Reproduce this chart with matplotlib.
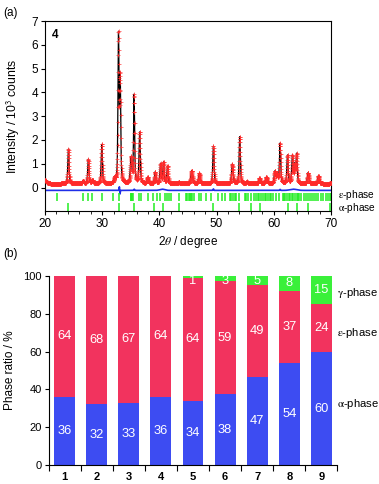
import numpy as np
import matplotlib
matplotlib.use("Agg")
import matplotlib.pyplot as plt
from matplotlib.ticker import MultipleLocator, FixedLocator

plt.rcParams['font.family'] = ['Liberation Sans', 'DejaVu Sans']
plt.rcParams['mathtext.fontset'] = 'stix'

# ---------------- (a) XRD data: peaks ----------------
peak_pos = [20.0, 24.10, 26.65, 27.58, 28.30, 29.93, 32.20, 32.85, 33.15, 35.05, 35.58,
            36.55, 37.95, 39.25, 40.20, 40.72, 41.42, 43.40, 45.65, 46.98, 49.45,
            52.75, 54.05, 55.30, 57.50, 58.70, 60.20, 60.60, 61.10, 62.40, 63.25,
            63.65, 64.00, 66.00, 67.80, 70.0]
peak_height = [0.15, 1.45, 0.12, 1.02, 0.15, 1.65, 0.20, 6.15, 4.30, 1.05, 3.70,
               2.15, 0.25, 0.48, 0.82, 0.88, 0.72, 0.05, 0.55, 0.43, 1.58,
               0.82, 1.98, 0.08, 0.23, 0.27, 0.50, 0.35, 1.68, 1.18, 1.15,
               0.75, 1.22, 0.46, 0.33, 0.04]
peak_fwhm = [0.6, 0.25, 0.3, 0.25, 0.3, 0.25, 0.3, 0.22, 0.22, 0.3, 0.22,
             0.25, 0.3, 0.25, 0.25, 0.25, 0.25, 0.3, 0.35, 0.3, 0.25,
             0.3, 0.25, 0.3, 0.3, 0.35, 0.3, 0.3, 0.25, 0.25, 0.25,
             0.25, 0.25, 0.3, 0.3, 0.3]
background = 0.16

diff_pos = [33.0, 33.12, 35.6, 40.5, 49.45, 61.1, 63.4]
diff_amp = [0.15, -0.15, 0.05, 0.05, 0.06, 0.04, 0.05]
diff_width = [0.05, 0.05, 0.1, 0.6, 0.08, 0.1, 0.8]
diff_offset = -0.12

eps_ticks = [20.0, 22.04, 26.6, 27.57, 28.16, 29.97, 31.83, 32.88, 34.98, 35.1, 35.25, 35.4,
             36.4, 36.73, 38.0, 38.9, 39.6, 40.05, 41.03, 41.3, 41.6, 42.08, 43.37,
             44.7, 44.9, 45.1, 45.3, 45.5, 45.65, 46.05, 46.9, 47.3, 48.2, 48.97, 50.2,
             50.9, 51.4, 52.3, 52.6, 52.9, 53.2, 53.4, 53.97, 55.0, 55.2, 55.45, 56.0,
             56.6, 56.9, 57.2, 57.5, 57.8, 58.1, 58.4, 58.7, 59.0, 59.3, 59.6, 59.8,
             60.4, 60.96, 61.55, 61.8, 62.0, 62.3, 62.6, 62.9, 63.1, 63.4, 63.7, 64.0,
             64.2, 64.46, 64.76, 65.3, 65.6, 66.0, 66.3, 66.7, 67.0, 67.4, 67.8, 68.2,
             68.55, 69.1, 69.4, 69.8, 70.0]
alpha_ticks = [24.08, 33.0, 35.6, 39.1, 40.7, 43.4, 49.4, 54.0, 56.1, 57.55, 62.43,
               64.1, 65.95, 69.8]

# ---------------- (b) phase ratios ----------------
samples = ['1', '2', '3', '4', '5', '6', '7', '8', '9']
alpha_pct = [36.0, 32.2, 32.9, 35.9, 33.9, 37.6, 46.4, 54.1, 59.9]
eps_pct = [64.0, 67.8, 67.1, 64.1, 64.9, 59.4, 48.9, 37.7, 25.2]
gamma_pct = [0.0, 0.0, 0.0, 0.0, 1.2, 3.0, 4.7, 8.2, 14.9]
alpha_lab = ['36', '32', '33', '36', '34', '38', '47', '54', '60']
eps_lab = ['64', '68', '67', '64', '64', '59', '49', '37', '24']
gamma_lab = ['', '', '', '', '1', '3', '5', '8', '15']

# ---------------- figure ----------------
fig = plt.figure(figsize=(3.79, 4.84), dpi=100)

# ---- (a)
ax1 = fig.add_axes([0.1187, 0.5634, 0.7546, 0.3932])
tt = np.arange(20.0, 70.0001, 0.02)
prof = np.full_like(tt, background)
for c, h, w in zip(peak_pos, peak_height, peak_fwhm):
    g = np.exp(-4 * np.log(2) * ((tt - c) / w) ** 2)
    l = 1.0 / (1.0 + 4 * ((tt - c) / w) ** 2)
    prof += h * (0.5 * g + 0.5 * l)
diff = np.full_like(tt, diff_offset)
for c, a, w in zip(diff_pos, diff_amp, diff_width):
    diff += a * np.exp(-((tt - c) / w) ** 2)

ax1.plot(tt, prof, color='black', lw=0.9, zorder=2)
ax1.plot(tt, prof, linestyle='none', marker='+', ms=2.4, mew=0.45, color='#ff2a2a', zorder=3)
ax1.plot(tt, diff, color='#1f2ee8', lw=1.2, zorder=2)
ax1.vlines(eps_ticks, -0.57, -0.24, color='#22ee22', lw=1.1, zorder=2)
ax1.vlines(alpha_ticks, -0.97, -0.63, color='#22ee22', lw=1.1, zorder=2)

ax1.set_xlim(20, 70)
ax1.set_ylim(-1.0, 7.0)
ax1.xaxis.set_major_locator(MultipleLocator(10))
ax1.xaxis.set_minor_locator(MultipleLocator(2))
ax1.yaxis.set_major_locator(FixedLocator([0, 1, 2, 3, 4, 5, 6, 7]))
ax1.tick_params(axis='both', which='major', direction='out', length=3, width=0.8,
                labelsize=8.5, pad=2)
ax1.tick_params(axis='x', which='minor', direction='out', length=2, width=0.6)
for s in ax1.spines.values():
    s.set_linewidth(0.8)
ax1.set_xlabel(r'2$\theta$ / degree', fontsize=8.5, labelpad=3)
ax1.set_ylabel(r'Intensity / 10$^{\mathsf{3}}$ counts', fontsize=8.8, labelpad=7)
ax1.text(0.035, 0.926, '4', transform=ax1.transAxes, fontsize=8.5, fontweight='bold',
         ha='center', va='center')
ax1.text(1.024, -0.32, r'$\mathrm{\varepsilon}$-phase', transform=ax1.get_yaxis_transform(),
         fontsize=7.3, ha='left', va='center')
ax1.text(1.024, -0.88, r'$\mathrm{\alpha}$-phase', transform=ax1.get_yaxis_transform(),
         fontsize=7.3, ha='left', va='center')
fig.text(0.008, 0.985, '(a)', fontsize=8.5, ha='left', va='top')

# ---- (b)
ax2 = fig.add_axes([0.1280, 0.0386, 0.7625, 0.3918])
x = np.arange(1, len(samples) + 1)
w = 0.65
b1 = ax2.bar(x, alpha_pct, w, color='#3d4cf2', edgecolor='none')
b2 = ax2.bar(x, eps_pct, w, bottom=alpha_pct, color='#f2335e', edgecolor='none')
bot3 = [a + e for a, e in zip(alpha_pct, eps_pct)]
b3 = ax2.bar(x, gamma_pct, w, bottom=bot3, color='#3af03a', edgecolor='none')
ax2.bar_label(b1, labels=alpha_lab, label_type='center', color='white', fontsize=9.3)
ax2.bar_label(b2, labels=eps_lab, label_type='center', color='white', fontsize=9.3)
for xi, b, gp, lab in zip(x, bot3, gamma_pct, gamma_lab):
    if lab:
        ax2.text(xi, min(b + gp / 2, 97.0), lab, color='white', fontsize=9.3,
                 ha='center', va='center')

ax2.set_xlim(0.5, 9.5)
ax2.set_ylim(0, 100)
ax2.set_xticks(x)
ax2.set_xticklabels(samples, fontweight='bold', fontsize=8)
ax2.set_xticks(np.arange(0.5, 9.6, 1.0), minor=True)
ax2.tick_params(axis='x', which='major', length=0, pad=5)
ax2.tick_params(axis='x', which='minor', direction='out', length=4, width=0.8)
ax2.yaxis.set_major_locator(MultipleLocator(20))
ax2.tick_params(axis='y', which='major', direction='out', length=3, width=0.8,
                labelsize=8, pad=2)
ax2.spines['top'].set_visible(False)
ax2.spines['right'].set_visible(False)
ax2.spines['left'].set_linewidth(0.8)
ax2.spines['bottom'].set_linewidth(0.8)
ax2.set_ylabel('Phase ratio / %', fontsize=8.5, labelpad=5)
ax2.text(0.997, 91, r'$\mathrm{\gamma}$-phase', transform=ax2.get_yaxis_transform(),
         fontsize=8.1, ha='left', va='center')
ax2.text(0.997, 70, r'$\mathrm{\varepsilon}$-phase', transform=ax2.get_yaxis_transform(),
         fontsize=8.1, ha='left', va='center')
ax2.text(0.997, 32.5, r'$\mathrm{\alpha}$-phase', transform=ax2.get_yaxis_transform(),
         fontsize=8.1, ha='left', va='center')
fig.text(0.008, 0.475, '(b)', fontsize=8.5, ha='left', va='center')

fig.savefig('out.png', dpi=100)
